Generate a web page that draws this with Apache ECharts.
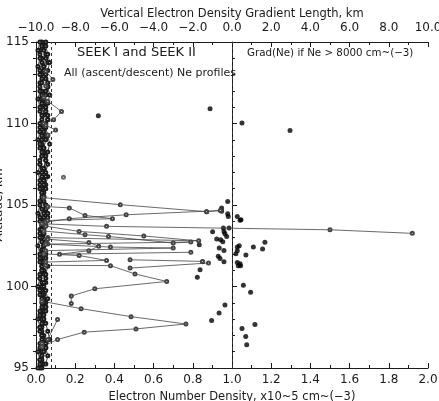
<!DOCTYPE html>
<html><head><meta charset="utf-8">
<script src="https://cdn.jsdelivr.net/npm/echarts@6/dist/echarts.min.js"></script>
<style>html,body{margin:0;padding:0;background:#fff}#c{width:439px;height:401px}</style>
</head><body><div id="c"></div>
<script>
// ---- DATA ----
const bottomTicks = [0.0,0.2,0.4,0.6,0.8,1.0,1.2,1.4,1.6,1.8,2.0];
const topTicks = [-10,-8,-6,-4,-2,0,2,4,6,8,10];
const altTicks = [95,100,105,110,115];
const neThreshold = 0.08;   // 8000 cm^-3 in 10^5 units
const gradZero = 0;

const altGridA = [95.0,95.5,96.0,96.5,97.0,97.5,98.0,98.5,99.0,99.5,100.0,100.5,101.0,101.5,102.0,102.5,103.0,103.5,104.0,104.5,105.0,105.5,106.0,106.5,107.0,107.5,108.0,108.5,109.0,109.5,110.0,110.5,111.0,111.5,112.0,112.5,113.0,113.5,114.0,114.5,115.0];
const altGridB = [95.25,95.75,96.25,96.75,97.25,97.75,98.25,98.75,99.25,99.75,100.25,100.75,101.25,101.75,102.25,102.75,103.25,103.75,104.25,104.75,105.25,105.75,106.25,106.75,107.25,107.75,108.25,108.75,109.25,109.75,110.25,110.75,111.25,111.75,112.25,112.75,113.25,113.75,114.25,114.75];

const profA1 = [0.03,0.02,0.03,0.04,0.03,0.02,0.03,0.04,0.05,0.04,0.03,0.02,0.03,0.04,0.03,0.04,0.03,0.02,0.03,0.04,0.05,0.04,0.03,0.04,0.03,0.02,0.03,0.04,0.03,0.02,0.03,0.04,0.03,0.02,0.03,0.02,0.03,0.04,0.03,0.02,0.03];
const profA2 = [0.02,0.03,0.04,0.05,0.04,0.03,0.04,0.05,0.04,0.03,0.04,0.05,0.04,0.03,0.05,0.04,0.03,0.04,0.05,0.06,0.05,0.04,0.05,0.04,0.05,0.06,0.05,0.04,0.05,0.04,0.05,0.06,0.05,0.04,0.05,0.06,0.05,0.04,0.05,0.04,0.05];
const profA3 = [0.01,0.02,0.01,0.02,0.03,0.02,0.01,0.02,0.03,0.02,0.01,0.02,0.03,0.02,0.02,0.01,0.02,0.03,0.02,0.01,0.02,0.03,0.02,0.02,0.01,0.02,0.03,0.02,0.01,0.02,0.02,0.03,0.02,0.01,0.02,0.03,0.02,0.01,0.02,0.01,0.02];
const profB1 = [0.04,0.03,0.05,0.04,0.03,0.04,0.03,0.05,0.04,0.03,0.05,0.04,0.03,0.04,0.03,0.05,0.04,0.03,0.04,0.05,0.03,0.04,0.05,0.06,0.04,0.05,0.04,0.03,0.05,0.04,0.06,0.05,0.04,0.05,0.06,0.05,0.04,0.06,0.05,0.04];
const profB2 = [0.02,0.03,0.02,0.03,0.02,0.03,0.02,0.03,0.03,0.02,0.03,0.02,0.03,0.02,0.03,0.03,0.02,0.03,0.02,0.03,0.02,0.03,0.02,0.03,0.03,0.02,0.03,0.02,0.03,0.02,0.03,0.02,0.03,0.03,0.02,0.03,0.02,0.03,0.02,0.03];
const profB3 = [0.05,0.06,0.05,0.07,0.06,0.05,0.04,0.05,0.06,0.05,0.04,0.05,0.06,0.05,0.04,0.05,0.04,0.05,0.06,0.05,0.04,0.03,0.04,0.05,0.04,0.05,0.06,0.07,0.06,0.05,0.06,0.05,0.06,0.07,0.06,0.05,0.06,0.07,0.06,0.05];

// excursion segments: [Ne, altitude]
const exc1 = [[0.04,105.45],[0.43,105.02],[0.87,104.59],[0.94,104.66],[0.46,104.40],[0.17,104.16],[0.05,103.95]];
const exc2 = [[0.06,104.9],[0.17,104.82],[0.25,104.36],[0.39,104.16],[0.06,104.05]];
const exc3 = [[0.03,103.85],[0.36,103.69],[1.50,103.48],[1.92,103.26]];
const exc4 = [[0.05,103.7],[0.22,103.38],[0.55,103.1],[0.83,102.8],[0.06,103.0]];
const exc5 = [[0.04,103.4],[0.25,103.18],[0.37,103.07],[0.70,102.67],[0.79,102.73],[0.06,102.6]];
const exc6 = [[0.06,102.9],[0.27,102.7],[0.32,102.47],[0.27,102.2],[0.12,101.98],[0.79,102.1]];
const exc7 = [[0.05,102.6],[0.38,102.42],[0.70,102.36],[0.05,102.2]];
const exc8 = [[0.04,102.0],[0.22,101.9],[0.36,101.6],[0.05,101.5]];
const exc9 = [[0.48,101.64],[0.85,101.54]];
const exc10 = [[0.48,101.13],[0.88,101.44]];
const exc11 = [[0.05,101.3],[0.38,101.28],[0.505,100.77],[0.667,100.31],[0.30,99.86],[0.18,99.42],[0.18,98.96]];
const exc12 = [[0.03,99.1],[0.23,98.64],[0.485,98.15],[0.765,97.7],[0.51,97.4],[0.246,97.2],[0.11,96.75],[0.03,96.3]];
const exc13 = [[0.03,96.5],[0.06,96.75],[0.11,97.98]];
const exc14 = [[0.04,111.6],[0.06,111.36],[0.13,110.74],[0.09,110.23],[0.04,110.0]];
const exc15 = [[0.05,109.9],[0.10,109.6],[0.06,109.3]];
const exc16 = [[0.05,113.2],[0.086,112.7],[0.05,112.3]];
const lonePoint = [[0.14,106.7]];

// gradient length (km, top axis) vs altitude
const gradLen = [-6.82,-1.12,0.51,2.96,-0.22,-0.53,-1.29,-0.53,-0.22,-0.19,0.27,0.41,0.46,-0.44,-0.15,-0.99,-0.41,-0.36,-0.27,-0.78,-0.58,-0.47,-1.67,0.37,0.27,1.68,1.09,1.56,-0.65,-0.41,0.27,0.2,0.71,-0.7,-0.61,-1.5,-0.41,0.27,0.41,0.32,0.44,-1.63,-1.77,0.58,0.95,-0.36,-0.66,-1.04,1.17,0.51,0.7,0.75];
const gradAlt = [110.48,110.9,110.03,109.57,105.22,104.82,104.59,104.61,104.47,104.3,104.3,104.06,104.1,103.59,103.59,103.36,103.38,103.24,103.07,102.91,102.87,102.75,102.56,102.5,102.42,102.71,102.42,102.3,102.36,102.21,102.2,102.01,101.93,101.85,101.72,101.52,101.52,101.48,101.4,101.28,101.28,101.03,100.56,100.07,99.64,98.86,98.37,97.92,97.67,97.43,96.94,96.43];

// ---- CHART ----
const FONT = 'DejaVu Sans';
const INK = '#1a1a1a';
const chart = echarts.init(document.getElementById('c'), null, {renderer:'canvas'});
const minus = s => s.replace('-', '\u2212');

function profSeries(grid, xs){
  return {type:'line', xAxisIndex:0, yAxisIndex:0, data: xs.map((x,i)=>[x, grid[i]]),
    symbol:'emptyCircle', symbolSize:3, lineStyle:{color:INK, width:0.8},
    itemStyle:{color:INK, borderColor:INK, borderWidth:0.8}, silent:true};
}
function excSeries(d){
  return {type:'line', xAxisIndex:0, yAxisIndex:0, data:d,
    symbol:'emptyCircle', symbolSize:3, lineStyle:{color:'#444', width:0.8},
    itemStyle:{color:'#444', borderColor:'#444', borderWidth:0.8}, silent:true};
}

const series = [
  profSeries(altGridA, profA1), profSeries(altGridA, profA2), profSeries(altGridA, profA3),
  profSeries(altGridB, profB1), profSeries(altGridB, profB2), profSeries(altGridB, profB3),
  ...[exc1,exc2,exc3,exc4,exc5,exc6,exc7,exc8,exc9,exc10,exc11,exc12,exc13,exc14,exc15,exc16].map(excSeries),
  {type:'scatter', xAxisIndex:0, yAxisIndex:0, data:lonePoint, symbol:'emptyCircle', symbolSize:3,
   itemStyle:{color:'#444', borderColor:'#444', borderWidth:0.8}, silent:true},
  {type:'scatter', xAxisIndex:1, yAxisIndex:0, data: gradLen.map((g,i)=>[g, gradAlt[i]]),
   symbol:'circle', symbolSize:5, itemStyle:{color:'#000'}, silent:true,
   markLine:{silent:true, symbol:'none', label:{show:false},
     lineStyle:{color:'#333', type:[3,3], width:1}, data:[{xAxis:gradZero}]}},
  {type:'line', xAxisIndex:0, yAxisIndex:0, data:[], silent:true,
   markLine:{silent:true, symbol:'none', label:{show:false},
     lineStyle:{color:'#333', type:[3,3], width:1}, data:[{xAxis:neThreshold}]}}
];

const axisCommon = {
  axisLine:{show:true, lineStyle:{color:INK, width:1}},
  splitLine:{show:false},
  nameMoveOverlap:false,
  axisLabel:{color:INK, fontFamily:FONT, fontSize:12},
  nameTextStyle:{color:INK, fontFamily:FONT, fontSize:12}
};

chart.setOption({
  animation:false,
  backgroundColor:'#fff',
  grid:{left:36, right:11, top:42, bottom:33, containLabel:false, outerBoundsMode:'none'},
  xAxis:[
    Object.assign({}, axisCommon, {type:'value', position:'bottom', min:0, max:2, interval:0.2,
      axisTick:{show:true, inside:true, length:5, lineStyle:{color:INK}},
      minorTick:{show:true, splitNumber:2, length:3, lineStyle:{color:INK}},
      axisLabel:Object.assign({}, axisCommon.axisLabel, {margin:6, formatter:v=>v.toFixed(1)}),
      name:'Electron Number Density, x10~5 cm~(\u22123)', nameLocation:'middle', nameGap:23,
      nameTextStyle:{color:INK, fontFamily:FONT, fontSize:11.5, verticalAlign:'top'}}),
    Object.assign({}, axisCommon, {type:'value', position:'top', min:-10, max:10, interval:2,
      axisTick:{show:true, inside:true, length:5, lineStyle:{color:INK}},
      minorTick:{show:true, splitNumber:2, length:3, lineStyle:{color:INK}},
      axisLabel:Object.assign({}, axisCommon.axisLabel, {margin:8, formatter:v=>minus(v.toFixed(1))}),
      name:'Vertical Electron Density Gradient Length, km', nameLocation:'middle', nameGap:22,
      nameTextStyle:{color:INK, fontFamily:FONT, fontSize:11.5, verticalAlign:'bottom'}})
  ],
  yAxis:[
    Object.assign({}, axisCommon, {type:'value', position:'left', min:95, max:115, interval:5,
      axisTick:{show:true, inside:false, length:5, lineStyle:{color:INK}},
      minorTick:{show:true, splitNumber:5, length:3, lineStyle:{color:INK}},
      axisLabel:Object.assign({}, axisCommon.axisLabel, {margin:7}),
      name:'Altitude, km', nameLocation:'middle', nameGap:31,
      nameTextStyle:{color:INK, fontFamily:FONT, fontSize:12, verticalAlign:'bottom'}}),
    Object.assign({}, axisCommon, {type:'value', position:'right', min:95, max:115, interval:5,
      axisTick:{show:true, inside:false, length:5, lineStyle:{color:INK}},
      minorTick:{show:true, splitNumber:5, length:3, lineStyle:{color:INK}},
      axisLabel:{show:false}})
  ],
  graphic:[
    {type:'text', left:77, top:46, style:{text:'SEEK I and SEEK II', font:'13px "DejaVu Sans"', fill:INK}},
    {type:'text', left:64, top:68, style:{text:'All (ascent/descent) Ne profiles', font:'11px "DejaVu Sans"', fill:INK}},
    {type:'text', left:247, top:48, style:{text:'Grad(Ne) if Ne > 8000 cm~(\u22123)', font:'10.3px "DejaVu Sans"', fill:INK}}
  ],
  series
});
</script></body></html>
